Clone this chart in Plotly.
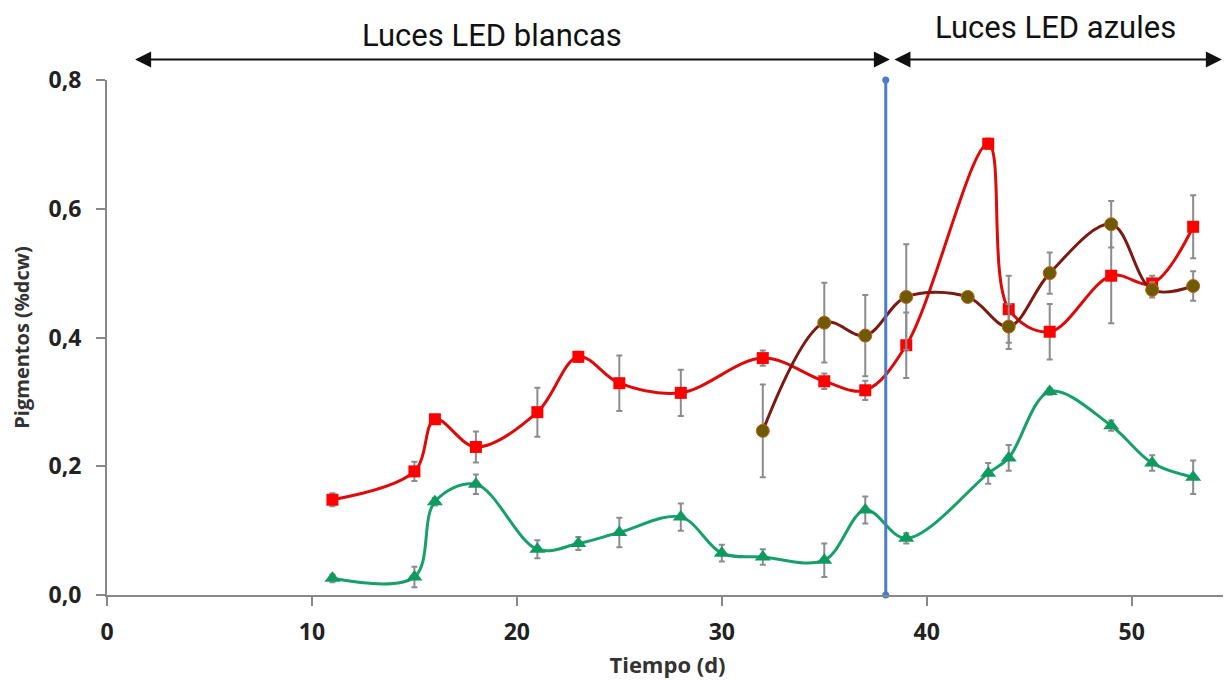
import plotly.graph_objects as go

# ---------------- data ----------------
red_x = [11, 15, 16, 18, 21, 23, 25, 28, 32, 35, 37, 39, 43, 44, 46, 49, 51, 53]
red_y = [0.148, 0.192, 0.273, 0.230, 0.284, 0.370, 0.329, 0.314, 0.368, 0.332, 0.318,
         0.388, 0.701, 0.444, 0.409, 0.496, 0.484, 0.572]
red_err = [0.010, 0.015, 0.007, 0.024, 0.038, 0.008, 0.043, 0.036, 0.012, 0.012, 0.015,
           0.051, 0.008, 0.052, 0.043, 0.074, 0.012, 0.049]

brown_x = [32, 35, 37, 39, 42, 44, 46, 49, 51, 53]
brown_y = [0.255, 0.423, 0.403, 0.463, 0.463, 0.417, 0.500, 0.576, 0.474, 0.480]
brown_err = [0.072, 0.062, 0.063, 0.082, 0.004, 0.035, 0.032, 0.036, 0.012, 0.023]

green_x = [11, 15, 16, 18, 21, 23, 25, 28, 30, 32, 35, 37, 39, 43, 44, 46, 49, 51, 53]
green_y = [0.026, 0.028, 0.145, 0.172, 0.071, 0.080, 0.097, 0.121, 0.065, 0.059, 0.054,
           0.132, 0.088, 0.189, 0.213, 0.316, 0.263, 0.205, 0.183]
green_err = [0.006, 0.016, 0.006, 0.015, 0.014, 0.010, 0.023, 0.021, 0.013, 0.012, 0.026,
             0.021, 0.008, 0.016, 0.020, 0.005, 0.008, 0.012, 0.026]

switch_day = 38
switch_y = [0.0, 0.8]

x_ticks = [0, 10, 20, 30, 40, 50]
y_ticks = [0.0, 0.2, 0.4, 0.6, 0.8]

phase_labels = ["Luces LED blancas", "Luces LED azules"]
phase_white = [1.3, 38.2]
phase_blue = [38.35, 54.4]
# ---------------------------------------

err_style = dict(type="data", visible=True, color="#8c8c8c", thickness=2, width=3)

fig = go.Figure()

fig.add_trace(go.Scatter(
    x=green_x, y=green_y, mode="lines+markers",
    line=dict(color="#17a06a", width=3, shape="spline", smoothing=1.0),
    marker=dict(symbol="triangle-up", size=14, color="#0f9a62"),
    error_y=dict(array=green_err, **err_style),
    cliponaxis=False, showlegend=False))

fig.add_trace(go.Scatter(
    x=red_x, y=red_y, mode="lines+markers",
    line=dict(color="#dd0a0a", width=3, shape="spline", smoothing=1.0),
    marker=dict(symbol="square", size=12, color="#ff0000"),
    error_y=dict(array=red_err, **err_style),
    cliponaxis=False, showlegend=False))

fig.add_trace(go.Scatter(
    x=brown_x, y=brown_y, mode="lines+markers",
    line=dict(color="#7a1a10", width=3, shape="spline", smoothing=1.0),
    marker=dict(symbol="circle", size=13, color="#6e5a00",
                line=dict(color="#c0601a", width=1)),
    error_y=dict(array=brown_err, **err_style),
    cliponaxis=False, showlegend=False))

fig.add_trace(go.Scatter(
    x=[switch_day, switch_day], y=switch_y, mode="lines+markers",
    line=dict(color="#4a7cc8", width=3),
    marker=dict(size=7, color="#4a7cc8"),
    cliponaxis=False, showlegend=False))

arrow_y = 1.040
arrow_common = dict(yref="paper", xref="x", axref="x", ayref="pixel", ay=0,
                    text="", showarrow=True, arrowhead=2, startarrowhead=2,
                    arrowside="end+start", arrowsize=1.6, startarrowsize=1.6,
                    arrowwidth=2, arrowcolor="#111111", standoff=0, startstandoff=0)

annotations = [
    dict(x=phase_white[1], ax=phase_white[0], y=arrow_y, **arrow_common),
    dict(x=phase_blue[1], ax=phase_blue[0], y=arrow_y, **arrow_common),
    dict(x=18.8, y=1.087, xref="x", yref="paper", yanchor="middle", xanchor="center",
         text=phase_labels[0], showarrow=False,
         font=dict(family="Roboto", size=31, color="#111111")),
    dict(x=46.3, y=1.101, xref="x", yref="paper", yanchor="middle", xanchor="center",
         text=phase_labels[1], showarrow=False,
         font=dict(family="Roboto", size=31, color="#111111")),
]

fig.update_layout(
    width=1223, height=672,
    margin=dict(l=99, r=3, t=72, b=85),
    paper_bgcolor="white", plot_bgcolor="white",
    separators=",.",
    annotations=annotations,
    xaxis=dict(
        range=[0, 54.7], tickvals=x_ticks, ticks="outside", ticklen=9, tickwidth=2,
        tickcolor="#888888", showline=True, linecolor="#888888", linewidth=2,
        showgrid=False, zeroline=False, ticklabelstandoff=6,
        tickfont=dict(family="Open Sans", size=23, color="#222222", weight="bold"),
        title=dict(text="<b>Tiempo (d)</b>", font=dict(family="Open Sans", size=22, color="#333333"),
                   standoff=12),
    ),
    yaxis=dict(
        range=[0, 0.8], tickvals=y_ticks, tickformat=".1f", ticks="outside", ticklen=9,
        tickwidth=2, tickcolor="#888888", showline=True, linecolor="#888888", linewidth=2,
        showgrid=False, zeroline=False, ticklabelstandoff=10,
        tickfont=dict(family="Open Sans", size=23, color="#222222", weight="bold"),
        title=dict(text="<b>Pigmentos (%dcw)</b>", font=dict(family="Open Sans", size=20, color="#333333"),
                   standoff=14),
    ),
)

fig.write_html("out.html")
